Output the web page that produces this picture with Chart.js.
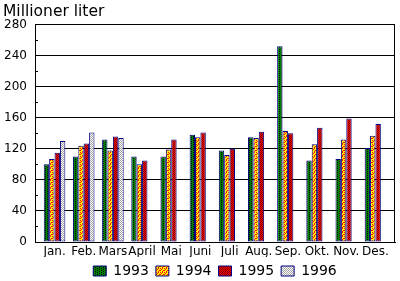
<!DOCTYPE html>
<html>
<head>
<meta charset="utf-8">
<script src="https://cdn.jsdelivr.net/npm/chart.js@4"></script>
<style>
  html, body { margin: 0; padding: 0; background: #fff; }
  #wrap { width: 400px; height: 281px; }
</style>
</head>
<body>
<div id="wrap"><canvas id="waterChart"></canvas></div>
<script>
const months = ['Jan.', 'Feb.', 'Mars', 'April', 'Mai', 'Juni', 'Juli', 'Aug.', 'Sep.', 'Okt.', 'Nov.', 'Des.'];
const years = ['1993', '1994', '1995', '1996'];
const v1993 = [100, 110, 132, 110, 110, 138, 118, 135, 252, 105, 107, 121];
const v1994 = [107, 124, 118, 100, 119, 135, 112, 134, 143, 126, 132, 137];
const v1995 = [115, 127, 136, 105, 132, 141, 120, 142, 140, 147, 159, 152];
const v1996 = [130, 141, 134, null, null, null, null, null, null, null, null, null];
const yTicks = [0, 40, 80, 120, 160, 200, 240, 280];

// dithered fills like the old bitmap patterns
function makePattern(base, dot, cells) {
    const c = document.createElement('canvas');
    c.width = 4; c.height = 4;
    const g = c.getContext('2d');
    g.fillStyle = base; g.fillRect(0, 0, 4, 4);
    g.fillStyle = dot;
    cells.forEach(p => g.fillRect(p[0], p[1], 1, 1));
    return g.createPattern(c, 'repeat');
}

const fills = [
    makePattern('#008000', '#000000', [[1, 0], [1, 2], [3, 1], [3, 3]]),
    makePattern('#ffff00', '#ff0000', [[0, 0], [2, 0], [1, 1], [3, 2], [0, 2], [2, 3]]),
    makePattern('#ff0000', '#800000', [[0, 0], [2, 0], [1, 1], [3, 1], [0, 2], [2, 2], [1, 3], [3, 3]]),
    makePattern('#ffffff', '#a0a0a0', [[0, 0], [2, 0], [1, 1], [3, 1], [0, 2], [2, 2], [1, 3], [3, 3]])
];

const series = [v1993, v1994, v1995, v1996];

const framePlugin = {
    id: 'frame',
    beforeDatasetsDraw(chart) {
        const { ctx, chartArea: a, scales } = chart;
        ctx.save();
        ctx.strokeStyle = '#000';
        ctx.lineWidth = 1;
        ctx.beginPath();
        ctx.moveTo(Math.round(a.right) - 0.5, a.top);
        ctx.lineTo(Math.round(a.right) - 0.5, a.bottom);
        // small minor ticks between the labelled gridlines
        for (let i = 0; i < yTicks.length - 1; i++) {
            const y = Math.round(scales.y.getPixelForValue((yTicks[i] + yTicks[i + 1]) / 2)) + 0.5;
            ctx.moveTo(a.left, y);
            ctx.lineTo(a.left + 3, y);
        }
        ctx.stroke();
        ctx.restore();
    }
};

new Chart(document.getElementById('waterChart'), {
    type: 'bar',
    data: {
        datasets: series.map((vals, i) => ({
            label: years[i],
            data: vals.map((v, j) => ({ x: j + 1, y: v })),
            backgroundColor: fills[i],
            borderColor: '#000080',
            borderWidth: 1,
            borderSkipped: false,
            barPercentage: 1,
            categoryPercentage: 0.74
        }))
    },
    options: {
        responsive: true,
        maintainAspectRatio: false,
        animation: false,
        layout: { padding: { left: 3, right: 5, top: 0, bottom: -7 } },
        plugins: {
            title: {
                display: true,
                text: 'Millioner liter',
                align: 'start',
                color: '#000',
                font: { family: '"DejaVu Sans", sans-serif', size: 15.5, weight: 'normal' },
                padding: { top: 3, bottom: 3 }
            },
            legend: {
                position: 'bottom',
                fullSize: false,
                labels: {
                    color: '#000',
                    font: { family: '"DejaVu Sans", sans-serif', size: 14 },
                    boxWidth: 13,
                    boxHeight: 10,
                    padding: 7
                }
            },
            tooltip: { enabled: false }
        },
        scales: {
            x: {
                type: 'linear',
                min: 0.33,
                max: 12.67,
                offset: false,
                bounds: 'data',
                grid: { display: false, drawTicks: false },
                border: { color: '#000' },
                afterBuildTicks: s => { s.ticks = months.map((m, i) => ({ value: i + 1 })); },
                afterFit: s => { s.height = 15; },
                ticks: {
                    autoSkip: false,
                    maxRotation: 0,
                    padding: 3,
                    color: '#000',
                    font: { family: '"DejaVu Sans", sans-serif', size: 12 },
                    callback: v => months[Math.round(v) - 1] || ''
                }
            },
            y: {
                min: 0,
                max: 280,
                grid: { color: '#000', drawTicks: false },
                border: { color: '#000' },
                afterFit: s => { s.width = 32; },
                ticks: {
                    stepSize: 40,
                    padding: 8,
                    color: '#000',
                    font: { family: '"DejaVu Sans", sans-serif', size: 12 }
                }
            }
        }
    },
    plugins: [framePlugin]
});
</script>
</body>
</html>
